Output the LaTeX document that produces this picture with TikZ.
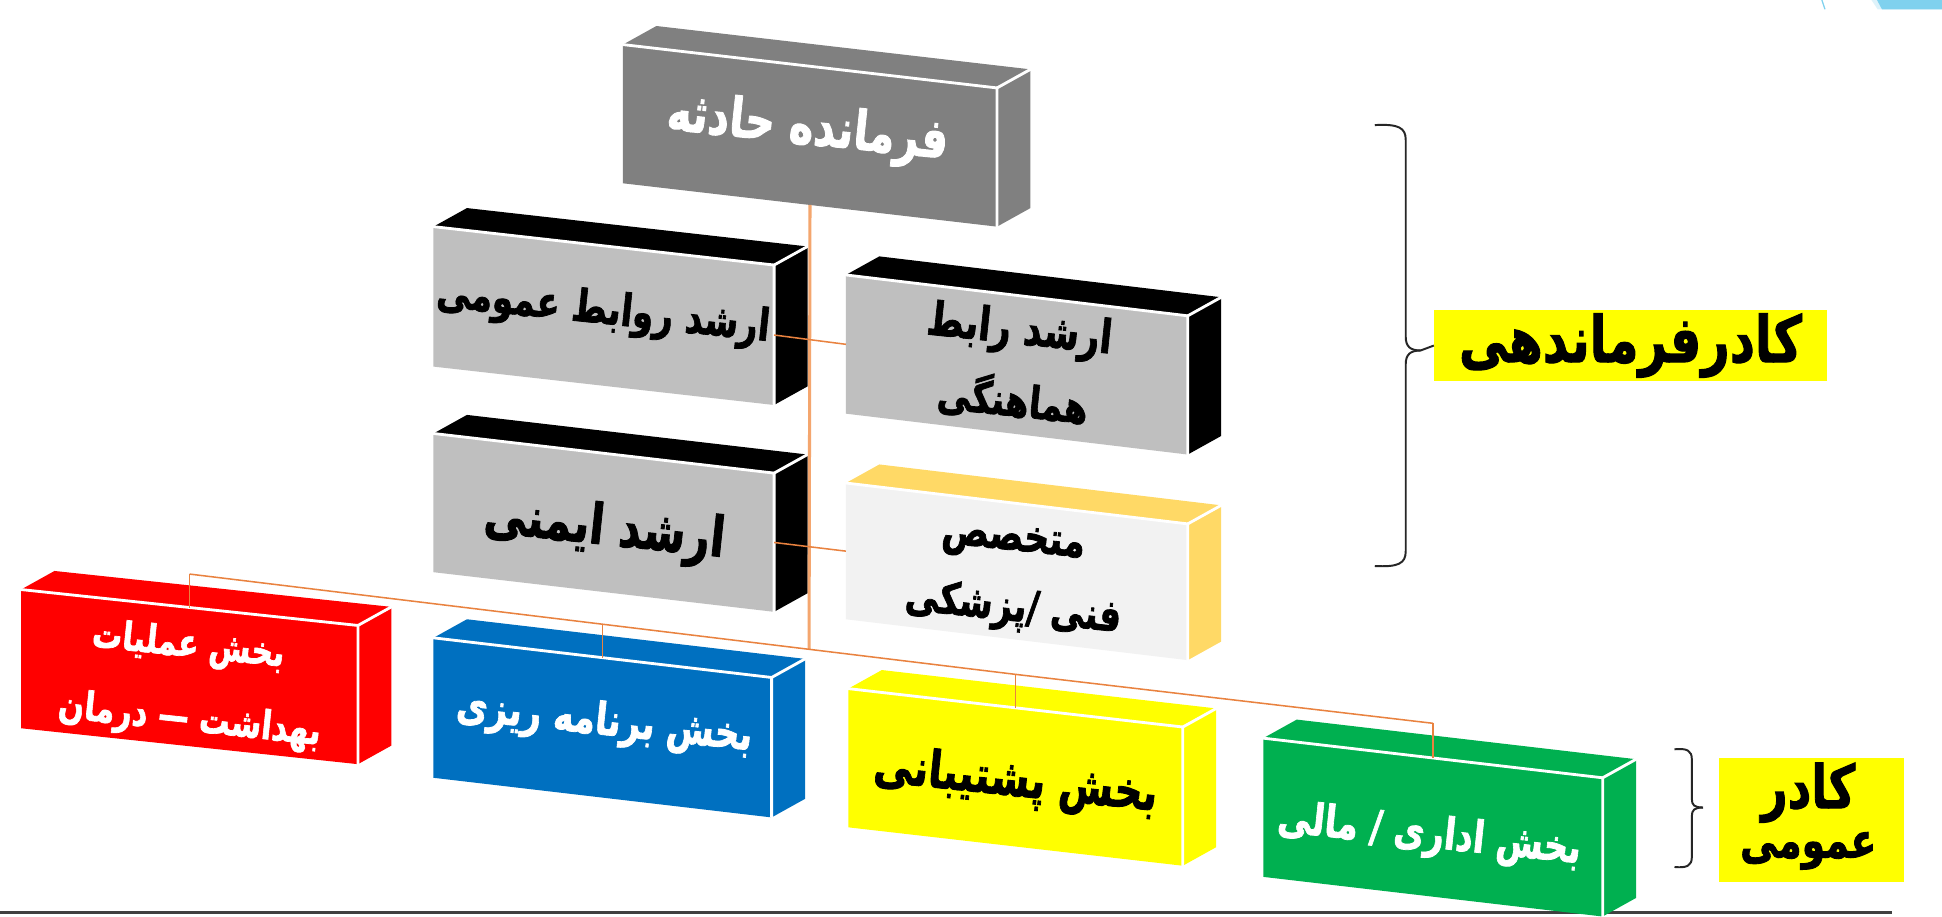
\documentclass[tikz,border=0pt]{standalone}
\usepackage{fontspec}
\usepackage{graphicx}
\usetikzlibrary{calc}
\newfontfamily\fa[Script=Arabic, BoldFeatures={FakeBold=1.8}]{DejaVu Sans}
\TeXXeTstate=1
\newdimen\pxu \pxu=0.02cm
\definecolor{boxgray}{HTML}{808080}
\definecolor{lgray}{HTML}{BFBFBF}
\definecolor{pale}{HTML}{F2F2F2}
\definecolor{gold}{HTML}{FFD966}
\definecolor{bred}{HTML}{FF0000}
\definecolor{bblue}{HTML}{0070C0}
\definecolor{byellow}{HTML}{FFFF00}
\definecolor{bgreen}{HTML}{00B050}
\definecolor{trunkc}{HTML}{F4A66E}
\definecolor{linkc}{HTML}{E9823F}
\definecolor{rulec}{HTML}{404040}
\definecolor{bracec}{HTML}{262626}
\definecolor{sky}{HTML}{7FD1EE}
\definecolor{skypale}{HTML}{DDF2FA}
\tikzset{
  edge/.style={draw=white, line width=1.3pt, line join=round, line cap=round},
  txt/.style={rotate=-6, inner sep=0pt},
  trunk/.style={draw=trunkc, line width=1.4pt},
  link/.style={draw=linkc, line width=0.7pt},
  bracel/.style={draw=bracec, line width=0.9pt},
  labelbox/.style={fill=byellow, inner sep=0pt}
}
% name, x, y, width, height, drop, front, top, side
\newcommand{\dbox}[9]{%
  \coordinate (#1-tl) at (#2,#3);
  \coordinate (#1-tr) at (#2+#4,#3+#6);
  \coordinate (#1-br) at (#2+#4,#3+#6+#5);
  \coordinate (#1-bl) at (#2,#3+#5);
  \coordinate (#1-btl) at (#2+27,#3-15);
  \coordinate (#1-btr) at (#2+#4+27,#3+#6-15);
  \coordinate (#1-bbr) at (#2+#4+27,#3+#6+#5-15);
  \fill[#8] (#1-tl) -- (#1-btl) -- (#1-btr) -- (#1-tr) -- cycle;
  \fill[#9] (#1-tr) -- (#1-btr) -- (#1-bbr) -- (#1-br) -- cycle;
  \fill[#7] (#1-tl) -- (#1-tr) -- (#1-br) -- (#1-bl) -- cycle;
  \draw[edge] (#1-tl) -- (#1-tr) -- (#1-br);
  \draw[edge] (#1-tr) -- (#1-btr);
  \coordinate (#1-top) at ($(#1-tl)!0.5!(#1-tr)$);
  \coordinate (#1-bot) at ($(#1-bl)!0.5!(#1-br)$);
  \coordinate (#1-east) at ($(#1-tr)!0.5!(#1-br)$);
  \coordinate (#1-west) at ($(#1-tl)!0.5!(#1-bl)$);
}
\newcommand{\tall}[2]{\scalebox{1}[1.3]{\resizebox{#1\pxu}{!}{\fa\bfseries #2}}}
\begin{document}
\begin{tikzpicture}[x=0.02cm, y=-0.02cm]
\fill[white] (0,0) rectangle (1568,740);
\useasboundingbox (0,0) rectangle (1568,740);
% slide decoration
\fill[skypale] (1511,0) -- (1568,0) -- (1568,7.5) -- (1516,7.5) -- cycle;
\fill[sky] (1515.5,0) -- (1568,0) -- (1568,7.5) -- (1519.5,7.5) -- cycle;
\draw[sky, line width=0.6pt] (1471,0) -- (1473.5,7.5);
% bottom rule
\coordinate (rule-l) at (0,737);
\coordinate (rule-r) at (1528,737);
\draw[rulec, line width=1.4pt] (rule-l) -- (rule-r);
% boxes
\dbox{A}{503}{36}{302}{112}{35}{boxgray}{boxgray}{boxgray}
\dbox{B}{350}{183}{275}{113}{31}{lgray}{black}{black}
\dbox{C}{683}{222}{276}{112}{33}{lgray}{black}{black}
\dbox{D}{350}{350}{275}{112}{32}{lgray}{black}{black}
\dbox{E}{683}{390}{276}{110}{33}{pale}{gold}{gold}
\dbox{F}{17}{476}{272}{112}{29}{bred}{bred}{bred}
\dbox{G}{350}{515}{273}{113}{32}{bblue}{bblue}{bblue}
\dbox{H}{685}{556}{270}{112}{31}{byellow}{byellow}{byellow}
\dbox{I}{1020}{596}{274}{112}{32}{bgreen}{bgreen}{bgreen}
% connectors
\coordinate (F-bus) at ($(F-top)+(0,-27)$);
\coordinate (G-bus) at ($(G-top)+(0,-27)$);
\coordinate (H-bus) at ($(H-top)+(0,-27)$);
\coordinate (I-bus) at ($(I-top)+(0,-28)$);
\coordinate (T-bus) at ($(G-bus)!0.5!(H-bus)$);
\draw[trunk] (A-bot) -- (T-bus);
\draw[link] (F-bus) -- (G-bus) -- (H-bus) -- (I-bus);
\draw[link] (F-bus) -- (F-top);
\draw[link] (G-bus) -- (G-top);
\draw[link] (H-bus) -- (H-top);
\draw[link] (I-bus) -- (I-top);
\draw[link] (B-east) -- (C-west);
\draw[link] (D-east) -- (E-west);
% texts
\node[txt, text=white] (tA) at (652,105) {\tall{228}{\beginR فرمانده حادثه\endR}};
\node[txt] (tB) at (487,252) {\tall{270}{\beginR ارشد روابط عمومی\endR}};
\node[txt] (tC1) at (823,268) {\tall{150}{\beginR ارشد رابط\endR}};
\node[txt] (tC2) at (818,322) {\tall{122}{\beginR هماهنگی\endR}};
\node[txt] (tD) at (488,428) {\tall{195}{\beginR ارشد ایمنی\endR}};
\node[txt] (tE1) at (818,439) {\tall{116}{\beginR متخصص\endR}};
\node[txt] (tE2) at (818,492) {\tall{175}{\beginR فنی /پزشکی\endR}};
\node[txt, text=white] (tF1) at (152,522) {\tall{156}{\beginR بخش عملیات\endR}};
\node[txt, text=white] (tF2) at (153,582) {\tall{213}{\beginR بهداشت — درمان\endR}};
\node[txt, text=white] (tG) at (488,584) {\tall{240}{\beginR بخش برنامه ریزی\endR}};
\node[txt] (tH) at (820,632) {\tall{230}{\beginR بخش پشتیبانی\endR}};
\node[txt, text=white] (tI) at (1154,675) {\tall{246}{\beginR بخش اداری / مالی\endR}};
% labels
\node[labelbox, minimum width=6.34cm, minimum height=1.16cm] (lab1) at (1316.5,279) {\tall{277}{\beginR کادرفرماندهی\endR}};
\node[labelbox, minimum width=2.98cm, minimum height=2.0cm] (lab2) at (1462.5,662) {};
\node[inner sep=0pt] (lab2a) at (1460,640) {\tall{76}{\beginR کادر\endR}};
\node[inner sep=0pt] (lab2b) at (1460,687) {\tall{110}{\beginR عمومی\endR}};
% braces
\coordinate (b1-top) at (1110,101);
\coordinate (b1-bot) at (1110,457);
\draw[bracel] (b1-top) .. controls (1129,100) and (1135,103) .. (1135,113) -- (1135,272) .. controls (1135,280) and (1139,283) .. (1147,283) -- (lab1.west);
\draw[bracel] (b1-bot) .. controls (1129,458) and (1135,455) .. (1135,445) -- (1135,294) .. controls (1135,286) and (1139,283) .. (1147,283);
\coordinate (b2-top) at (1352,605);
\coordinate (b2-bot) at (1352,700);
\coordinate (b2-tip) at (1375,652);
\draw[bracel] (b2-top) .. controls (1362,604) and (1366,606) .. (1366,613) -- (1366,645) .. controls (1366,650) and (1368,652) .. (b2-tip);
\draw[bracel] (b2-bot) .. controls (1362,701) and (1366,699) .. (1366,692) -- (1366,659) .. controls (1366,654) and (1368,652) .. (b2-tip);
\end{tikzpicture}
\end{document}
